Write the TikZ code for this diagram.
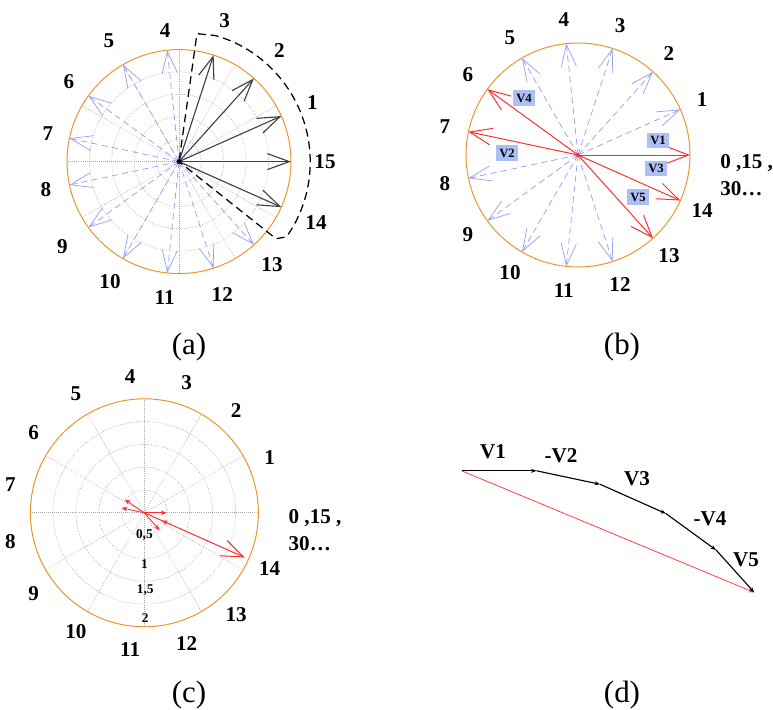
\documentclass[tikz,border=0pt]{standalone}
\usepackage{fontspec}
\setmainfont{Liberation Serif}
\usetikzlibrary{arrows.meta,positioning,calc}
\definecolor{rimorange}{RGB}{236,148,40}
\definecolor{pale}{RGB}{150,158,240}
\definecolor{vred}{RGB}{255,45,45}
\definecolor{vfill}{RGB}{172,192,246}
\definecolor{grd}{RGB}{165,165,165}

\begin{document}
\begin{tikzpicture}[
  num/.style={font=\fontsize{15}{17}\selectfont\bfseries, inner sep=0pt},
  sub/.style={font=\fontsize{22}{25}\selectfont, inner sep=0pt},
  vb/.style={fill=vfill, font=\fontsize{9}{10}\selectfont\bfseries, inner sep=2.4pt},
  rlab/.style={font=\fontsize{9.5}{10}\selectfont\bfseries, inner sep=0pt},
  polgrid/.style={grd, densely dotted, line width=0.45pt},
  rim/.style={rimorange, line width=0.7pt},
  bl/.style={pale, dash pattern=on 1.6mm off 1mm, line width=0.5pt,
             -{Straight Barb[length=5.5mm, width=3.8mm]}},
  blk/.style={black!75, line width=0.8pt,
              -{Straight Barb[length=5.5mm, width=4mm]}},
  rd/.style={vred, line width=0.7pt,
             -{Straight Barb[length=5.5mm, width=4.2mm]}},
  rs/.style={vred, line width=0.6pt, -{Stealth[length=1.4mm, width=1.2mm]}},
  ch/.style={black, line width=0.8pt, -{Stealth[length=1.4mm, width=1mm]}},
  zone/.style={black, line width=0.9pt, dash pattern=on 2mm off 1.2mm,
               rounded corners=1pt}]

\path[use as bounding box] (0,0) rectangle (193.25mm,-177.5mm);

% ---------------- (a): the sectors and the chosen ones --------------------
\coordinate (ac) at (44.75mm,-40.4mm);
\foreach \k in {1,...,4} { \draw[polgrid] (ac) circle (\k*5.6mm); }
\foreach \t in {0,30,...,330} { \draw[polgrid] (ac) -- ++(\t:28mm); }
\draw[rim] (ac) circle (28mm);
\foreach \k in {0,...,14} { \coordinate (a\k) at ($(ac)+(24*\k:28mm)$); }
\foreach \k in {4,...,13} { \draw[bl] (ac) -- (a\k); }
\foreach \k in {14,0,1,2,3} { \draw[blk] (ac) -- (a\k); }
\fill (ac) circle (0.6mm);

\draw[zone] (ac) -- ($(ac)+(82:32.3mm)$) -- ($(ac)+(74:32.8mm)$)
      arc[start angle=74, end angle=-35, radius=32.8mm]
      -- ($(ac)+(-38.5:31mm)$) -- cycle;

\foreach \k/\r in {1/36.5,2/37.5,3/37,4/33,5/35,6/34,7/33.5,8/34,9/36,
                   10/34.5,11/34.25,12/35,13/34.75,14/37.5} {
  \node[num] (la\k) at ($(ac)+(24*\k:\r mm)$) {\k};
}
\node[num] (la15) at ($(ac)+(0:36.5mm)$) {15};
\node[sub] (capa) at (47.25mm,-86.75mm) {(a)};

% ---------------- (b): the five vectors -----------------------------------
\coordinate (bc) at (144.5mm,-38.75mm);
\draw[rim] (bc) circle (28mm);
\foreach \k in {0,...,14} { \coordinate (b\k) at ($(bc)+(24*\k:28mm)$); }
\foreach \k in {1,2,3,4,5,8,9,10,11,12} { \draw[bl] (bc) -- (b\k); }
\foreach \k in {0,7,14,6,13} { \draw[rd] (bc) -- (b\k); }
\fill[vred] (bc) circle (0.5mm);

\node[vb] (v1) at ($(bc)+(20mm,3.6mm)$) {V1};
\node[vb] (v2) at ($(bc)+(-17.75mm,0.5mm)$) {V2};
\node[vb] (v3) at ($(bc)+(19.5mm,-3.4mm)$) {V3};
\node[vb] (v4) at ($(bc)+(-13.5mm,14.25mm)$) {V4};
\node[vb] (v5) at ($(bc)+(15mm,-10.5mm)$) {V5};

\foreach \k in {1,...,14} { \node[num] (lb\k) at ($(bc)+(24*\k:34mm)$) {\k}; }
\node[num, anchor=west, align=left, font=\fontsize{15}{19}\selectfont\bfseries]
      (lb15) at ($(bc)+(35.5mm,-5mm)$) {0 ,15 ,\\30\dots};
\node[sub] (capb) at (155.5mm,-86.75mm) {(b)};

% ---------------- (c): the sum on the polar grid --------------------------
\coordinate (cc) at (36.1mm,-128.2mm);
\foreach \k in {1,...,4} { \draw[polgrid] (cc) circle (\k*5.7mm); }
\foreach \t in {0,30,...,330} { \draw[polgrid] (cc) -- ++(\t:28.5mm); }
\draw[rim] (cc) circle (28.5mm);

\coordinate (c0) at ($(cc)+(0:5.5mm)$);
\coordinate (c7) at ($(cc)+(168:5.8mm)$);
\coordinate (c6) at ($(cc)+(146:5.9mm)$);
\coordinate (c13) at ($(cc)+(311:5.75mm)$);
\coordinate (c14) at ($(cc)+(336:27.5mm)$);
\coordinate (c14m) at ($(cc)+(336:7mm)$);
\coordinate (c14s) at ($(cc)+(336:4.8mm)$);
\foreach \k in {0,7,6,13} { \draw[rs] (cc) -- (c\k); }
\draw[rs] (c14m) -- (c14s);
\draw[rd] (cc) -- (c14);

\node[rlab] (r1) at ($(cc)+(0,-5.6mm)$) {0,5};
\node[rlab] (r2) at ($(cc)+(0,-12.7mm)$) {1};
\node[rlab] (r3) at ($(cc)+(0.2mm,-19.3mm)$) {1,5};
\node[rlab] (r4) at ($(cc)+(0.2mm,-26.4mm)$) {2};

\foreach \k in {1,...,14} { \node[num] (lc\k) at ($(cc)+(24*\k:34.25mm)$) {\k}; }
\node[num, anchor=west, align=left, font=\fontsize{15}{19}\selectfont\bfseries]
      (lc15) at ($(cc)+(36mm,-4.3mm)$) {0 ,15 ,\\30\dots};
\node[sub] (capc) at (47.25mm,-173.75mm) {(c)};

% ---------------- (d): head to tail ---------------------------------------
\coordinate (d0) at (115.4mm,-117.7mm);
\path (d0) ++(0:18.75mm) coordinate (d1) ++(-12:16.25mm) coordinate (d2)
      ++(-24:18mm) coordinate (d3) ++(-36:15.5mm) coordinate (d4)
      ++(-48:14.25mm) coordinate (d5);
\draw[vred, line width=0.5pt, -{Stealth[length=1.4mm, width=1mm]}] (d0) -- (d5);
\foreach \i [count=\j from 1] in {0,...,4} { \draw[ch] (d\i) -- (d\j); }

\node[num] (n1) at (123.25mm,-113mm) {V1};
\node[num] (n2) at (140.25mm,-114mm) {-V2};
\node[num] (n3) at (159.25mm,-119.75mm) {V3};
\node[num] (n4) at (177.5mm,-129.75mm) {-V4};
\node[num] (n5) at (186.5mm,-140mm) {V5};
\node[sub] (capd) at (155.5mm,-173.75mm) {(d)};
\end{tikzpicture}
\end{document}
